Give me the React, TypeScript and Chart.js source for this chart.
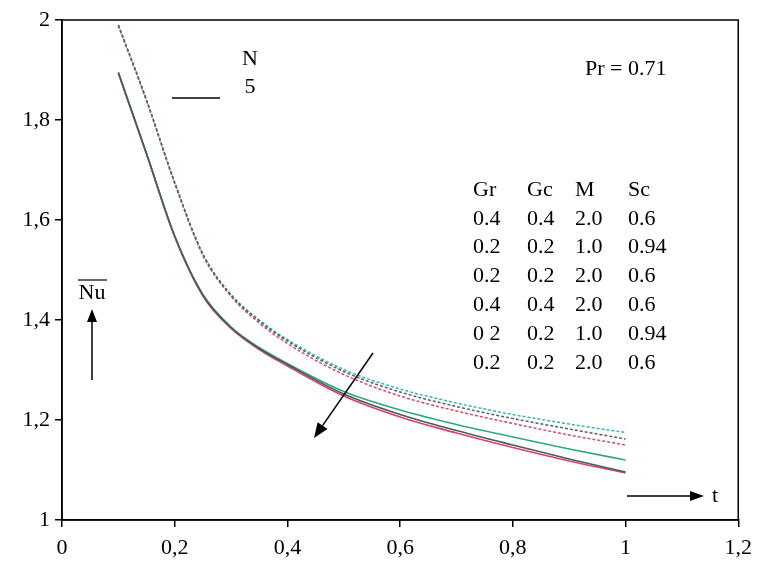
import React, { useEffect, useRef } from "react";
import { Chart, registerables } from "chart.js";

Chart.register(...registerables);

// Time values (t)
const tValues = [0.1, 0.15, 0.2, 0.25, 0.3, 0.35, 0.4, 0.5, 0.6, 0.7, 0.8, 0.9, 1.0];

// Solid curves
const solidGray = [1.895, 1.733, 1.568, 1.45, 1.385, 1.343, 1.311, 1.252, 1.211, 1.179, 1.15, 1.122, 1.096];
const solidGreen = [1.895, 1.733, 1.568, 1.451, 1.386, 1.345, 1.313, 1.257, 1.22, 1.191, 1.166, 1.142, 1.12];
const solidRed = [1.893, 1.731, 1.566, 1.448, 1.383, 1.341, 1.308, 1.248, 1.206, 1.174, 1.145, 1.118, 1.094];

// Dashed curves
const dashedGray = [1.99, 1.84, 1.675, 1.532, 1.45, 1.398, 1.358, 1.297, 1.256, 1.227, 1.203, 1.182, 1.162];
const dashedTeal = [1.99, 1.84, 1.675, 1.532, 1.451, 1.4, 1.361, 1.301, 1.262, 1.234, 1.211, 1.192, 1.175];
const dashedRed = [1.988, 1.838, 1.673, 1.529, 1.447, 1.394, 1.353, 1.291, 1.248, 1.218, 1.193, 1.17, 1.15];

// Annotation table
const tableHeader = ["Gr", "Gc", "M", "Sc"];
const tableRows = [
  ["0.4", "0.4", "2.0", "0.6"],
  ["0.2", "0.2", "1.0", "0.94"],
  ["0.2", "0.2", "2.0", "0.6"],
  ["0.4", "0.4", "2.0", "0.6"],
  ["0 2", "0.2", "1.0", "0.94"],
  ["0.2", "0.2", "2.0", "0.6"],
];

const FONT = '"Liberation Serif", "DejaVu Serif", serif';

const toPts = (ys: number[]) => tValues.map((t, i) => ({ x: t, y: ys[i] }));

function arrow(ctx: CanvasRenderingContext2D, x1: number, y1: number, x2: number, y2: number, head = 14, hw = 5) {
  const ang = Math.atan2(y2 - y1, x2 - x1);
  const bx = x2 - head * Math.cos(ang);
  const by = y2 - head * Math.sin(ang);
  ctx.beginPath();
  ctx.moveTo(x1, y1);
  ctx.lineTo(bx, by);
  ctx.stroke();
  ctx.beginPath();
  ctx.moveTo(x2, y2);
  ctx.lineTo(bx + hw * Math.sin(ang), by - hw * Math.cos(ang));
  ctx.lineTo(bx - hw * Math.sin(ang), by + hw * Math.cos(ang));
  ctx.closePath();
  ctx.fill();
}

const decorations = {
  id: "decorations",
  afterDraw(chart: any) {
    const { ctx, chartArea: a } = chart;
    ctx.save();
    ctx.strokeStyle = "#000";
    ctx.fillStyle = "#000";
    ctx.lineWidth = 1.5;
    ctx.strokeRect(a.left, a.top, a.right - a.left, a.bottom - a.top);

    ctx.font = `22px ${FONT}`;
    ctx.textBaseline = "middle";
    ctx.textAlign = "center";
    ctx.fillText("N", 250, 59);
    ctx.fillText("5", 250, 87);
    ctx.lineWidth = 1.5;
    ctx.beginPath();
    ctx.moveTo(172, 98);
    ctx.lineTo(220, 98);
    ctx.stroke();

    ctx.textAlign = "left";
    ctx.fillText("Pr = 0.71", 585, 69);

    const cols = [473, 527, 575, 628];
    const y0 = 190;
    const dy = 28.8;
    tableHeader.forEach((h, i) => ctx.fillText(h, cols[i], y0));
    tableRows.forEach((r, j) => r.forEach((c, i) => ctx.fillText(c, cols[i], y0 + dy * (j + 1))));

    // Nu label with overline
    ctx.textAlign = "center";
    ctx.fillText("Nu", 92, 293);
    ctx.lineWidth = 1.2;
    ctx.beginPath();
    ctx.moveTo(78, 280);
    ctx.lineTo(107, 280);
    ctx.stroke();

    ctx.lineWidth = 1.5;
    arrow(ctx, 92, 380, 92, 309, 13, 5);
    arrow(ctx, 373, 353, 314, 438, 15, 6);
    arrow(ctx, 627, 496, 704, 496, 14, 5);
    ctx.textAlign = "center";
    ctx.fillText("t", 715, 496);
    ctx.restore();
  },
};

export default function App() {
  const ref = useRef<HTMLCanvasElement>(null);
  useEffect(() => {
    if (!ref.current) return;
    const solid = (label: string, ys: number[], color: string) => ({
      label,
      data: toPts(ys),
      borderColor: color,
      borderWidth: 1.6,
      pointRadius: 0,
      fill: false,
      cubicInterpolationMode: "monotone" as const,
    });
    const dashed = (label: string, ys: number[], color: string) => ({
      ...solid(label, ys, color),
      borderDash: [3, 2],
      borderWidth: 1.5,
    });
    const chart = new Chart(ref.current, {
      type: "line",
      data: {
        datasets: [
          solid("solid gray", solidGray, "#4e5a5a"),
          solid("solid green", solidGreen, "#2fa882"),
          solid("solid red", solidRed, "#d8436a"),
          dashed("dashed gray", dashedGray, "#56615f"),
          dashed("dashed teal", dashedTeal, "#34b8ae"),
          dashed("dashed red", dashedRed, "#d24a6e"),
        ],
      },
      options: {
        animation: false,
        responsive: false,
        layout: { padding: { left: 0, top: 20, right: 18, bottom: 0 } },
        plugins: { legend: { display: false }, tooltip: { enabled: false } },
        scales: {
          x: {
            type: "linear",
            min: 0,
            max: 1.2,
            border: { color: "#000", width: 1.5 },
            grid: { drawOnChartArea: false, color: "#000", tickLength: 7, lineWidth: 1.5 },
            ticks: {
              stepSize: 0.2,
              color: "#000",
              font: { family: FONT, size: 22 },
              padding: 8,
              maxRotation: 0,
              callback: (v: any) => String(Math.round(Number(v) * 10) / 10).replace(".", ","),
            },
            afterFit: (s: any) => {
              s.height = 50;
            },
          },
          y: {
            min: 1,
            max: 2,
            border: { color: "#000", width: 1.5 },
            grid: { drawOnChartArea: false, color: "#000", tickLength: 7, lineWidth: 1.5 },
            ticks: {
              stepSize: 0.2,
              color: "#000",
              font: { family: FONT, size: 22 },
              padding: 5,
              callback: (v: any) => String(Math.round(Number(v) * 10) / 10).replace(".", ","),
            },
            afterFit: (s: any) => {
              s.width = 62;
            },
          },
        },
      },
      plugins: [decorations],
    });
    return () => chart.destroy();
  }, []);
  return (
    <div style={{ position: "fixed", left: 0, top: 0, width: 760, height: 570, background: "#fff" }}>
      <canvas ref={ref} width={760} height={570} />
    </div>
  );
}
